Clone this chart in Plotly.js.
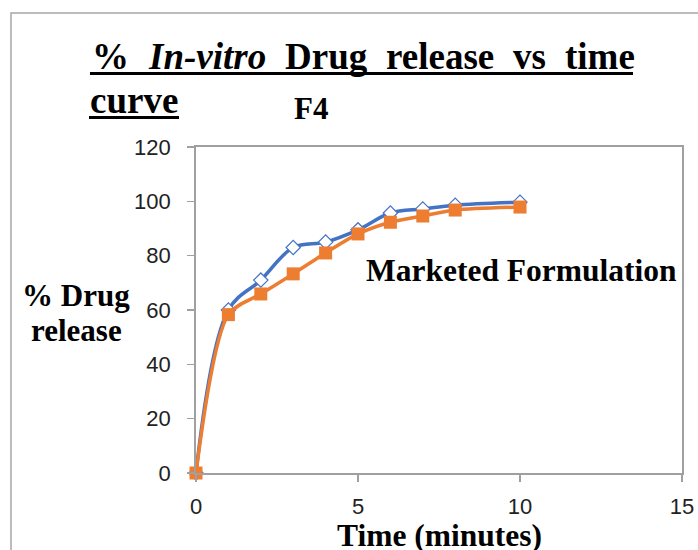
<!DOCTYPE html>
<html>
<head>
<meta charset="utf-8">
<script src="https://cdn.plot.ly/plotly-3.0.1.min.js"></script>
<style>html,body{margin:0;padding:0;background:#fff;}#chart{width:698px;height:550px;}</style>
</head>
<body>
<div id="chart"></div>
<script>
// ---- data ----
const timeMin = [0, 1, 2, 3, 4, 5, 6, 7, 8, 10];
const f4Release = [0, 60, 71, 83, 85, 89.5, 95.7, 97.2, 98.6, 99.7];
const marketedRelease = [0, 58.3, 65.9, 73.3, 81, 88, 92.3, 94.6, 96.8, 97.9];
const xTicks = [0, 5, 10, 15];
const yTicks = [0, 20, 40, 60, 80, 100, 120];
const titleWords = ["%", "<i>In-vitro</i>", "Drug", "release", "vs", "time"];

// ---- layout helpers (pixel -> paper) ----
const L = 196, R = 682, T = 147, B = 473;
const px = x => (x - L) / (R - L);
const py = y => (B - y) / (B - T);
const serif = "Liberation Serif, Times New Roman, serif";
const titleLeft = 90, titleRight = 633;

const traces = [
  {
    x: timeMin, y: f4Release, name: "F4", type: "scatter", mode: "lines+markers",
    line: {color: "#4472C4", width: 3.5, shape: "spline"},
    marker: {symbol: "diamond", size: 11, color: "#ffffff", line: {color: "#4472C4", width: 1.2}},
    cliponaxis: false
  },
  {
    x: timeMin, y: marketedRelease, name: "Marketed Formulation", type: "scatter", mode: "lines+markers",
    line: {color: "#ED7D31", width: 3.5, shape: "spline", smoothing: 0.8},
    marker: {symbol: "square", size: 13, color: "#ED7D31"},
    cliponaxis: false
  }
];

const annotations = titleWords.map((w, i) => ({
  xref: "paper", yref: "paper", x: px(titleLeft + i * 90), y: py(79),
  xanchor: "left", yanchor: "bottom",
  text: "<b>" + w + "</b>", showarrow: false,
  font: {family: serif, size: 37, color: "#000"}
}));
annotations.push(
  {xref: "paper", yref: "paper", x: px(88), y: py(123), xanchor: "left", yanchor: "bottom",
   text: "<b>curve</b>", showarrow: false, font: {family: serif, size: 37, color: "#000"}},
  {xref: "paper", yref: "paper", x: px(292), y: py(108), xanchor: "left", yanchor: "middle",
   text: "<b>F4</b>", showarrow: false, font: {family: serif, size: 31, color: "#000"}},
  {xref: "paper", yref: "paper", x: px(364), y: py(270), xanchor: "left", yanchor: "middle",
   text: "<b>Marketed Formulation</b>", showarrow: false, font: {family: serif, size: 31.5, color: "#000"}},
  {xref: "paper", yref: "paper", x: px(76), y: py(295), xanchor: "center", yanchor: "middle",
   text: "<b>% Drug</b>", showarrow: false, font: {family: serif, size: 31, color: "#000"}},
  {xref: "paper", yref: "paper", x: px(76), y: py(330), xanchor: "center", yanchor: "middle",
   text: "<b>release</b>", showarrow: false, font: {family: serif, size: 31, color: "#000"}},
  {xref: "paper", yref: "paper", x: px(439), y: py(535), xanchor: "center", yanchor: "middle",
   text: "<b>Time (minutes)</b>", showarrow: false, font: {family: serif, size: 31.5, color: "#000"}}
);

const shapes = [
  // outer chart frame
  {type: "rect", xref: "paper", yref: "paper", x0: px(11), x1: px(720), y0: py(13), y1: py(570),
   line: {color: "#a6a6a6", width: 1.5}, fillcolor: "rgba(0,0,0,0)", layer: "below"},
  // title underlines
  {type: "line", xref: "paper", yref: "paper", x0: px(titleLeft), x1: px(titleRight), y0: py(73.5), y1: py(73.5),
   line: {color: "#000", width: 2.8}},
  {type: "line", xref: "paper", yref: "paper", x0: px(89), x1: px(179), y0: py(117.5), y1: py(117.5),
   line: {color: "#000", width: 2.8}}
];

const axisCommon = {
  showgrid: false, zeroline: false, showline: true, mirror: true,
  linecolor: "#a0a0a0", linewidth: 1.8, ticks: "outside", ticklen: 7, tickcolor: "#a0a0a0", tickwidth: 1.5,
  tickfont: {family: "Liberation Sans, Arial, sans-serif", size: 22, color: "#222"}, fixedrange: true
};

const layout = {
  width: 698, height: 550,
  margin: {l: L, r: 698 - R, t: T, b: 550 - B, pad: 0},
  paper_bgcolor: "#ffffff", plot_bgcolor: "#ffffff",
  showlegend: false,
  xaxis: Object.assign({}, axisCommon, {range: [0, 15], tickvals: xTicks, ticktext: xTicks.map(String), ticklabelstandoff: 6}),
  yaxis: Object.assign({}, axisCommon, {range: [0, 120], tickvals: yTicks, ticktext: yTicks.map(String), ticklabelstandoff: 12}),
  annotations: annotations,
  shapes: shapes
};

Plotly.newPlot("chart", traces, layout, {displayModeBar: false, staticPlot: true}).then(gd => {
  // justify the first title line between titleLeft and titleRight
  const nodes = gd.querySelectorAll(".annotation .annotation-text");
  const widths = [];
  for (let i = 0; i < titleWords.length; i++) widths.push(nodes[i].getBBox().width);
  const total = widths.reduce((a, b) => a + b, 0);
  const gap = (titleRight - titleLeft - total) / (titleWords.length - 1);
  const upd = {};
  let cur = titleLeft;
  for (let i = 0; i < titleWords.length; i++) {
    upd["annotations[" + i + "].x"] = px(cur);
    cur += widths[i] + gap;
  }
  return Plotly.relayout(gd, upd);
});
</script>
</body>
</html>
